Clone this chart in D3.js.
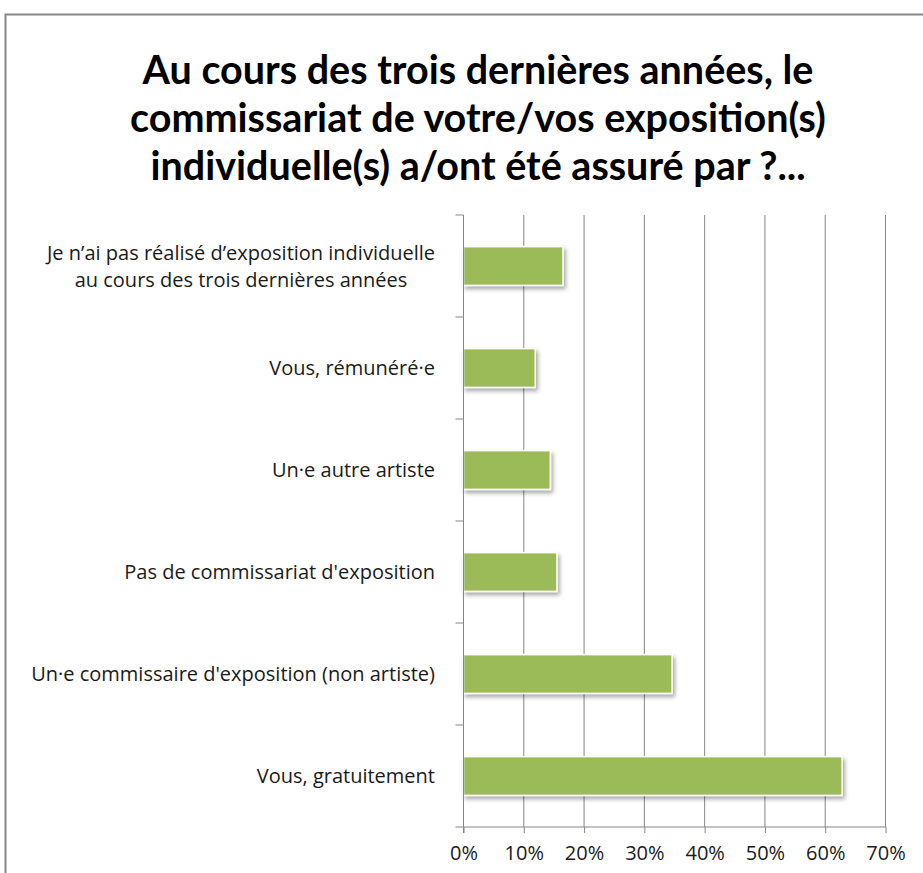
<!DOCTYPE html>
<html>
<head>
<meta charset="utf-8">
<script src="https://cdn.jsdelivr.net/npm/d3@7"></script>
<style>
  html, body { margin: 0; padding: 0; background: #fff; }
  svg { display: block; }
</style>
</head>
<body>
<svg id="chart" width="923" height="873"></svg>
<script>
// Survey answers, top to bottom, and their shares of respondents
const categories = [
  "Je n’ai pas réalisé d’exposition individuelle\nau cours des trois dernières années",
  "Vous, rémunéré·e",
  "Un·e autre artiste",
  "Pas de commissariat d'exposition",
  "Un·e commissaire d'exposition (non artiste)",
  "Vous, gratuitement"
];
const shares = [0.165, 0.119, 0.144, 0.155, 0.346, 0.628];
const xTicks = [0, 0.1, 0.2, 0.3, 0.4, 0.5, 0.6, 0.7];
const titleLines = [
  "Au cours des trois dernières années, le",
  "commissariat de votre/vos exposition(s)",
  "individuelle(s) a/ont été assuré par ?..."
];

const svg = d3.select("#chart");
const titleFont = "Lato, 'Open Sans', sans-serif";
const font = "'Open Sans', Lato, sans-serif";
const gridColor = "#868686";
const textColor = "#1a1a1a";

// chart frame
svg.append("rect")
  .attr("x", 5.5).attr("y", 14.5)
  .attr("width", 1000).attr("height", 1000)
  .attr("fill", "#fff")
  .attr("stroke", gridColor).attr("stroke-width", 2);

// bar shadow
const defs = svg.append("defs");
const f = defs.append("filter").attr("id", "shadow")
  .attr("x", "-10%").attr("y", "-20%").attr("width", "130%").attr("height", "160%");
f.append("feDropShadow")
  .attr("dx", 2).attr("dy", 3).attr("stdDeviation", 2)
  .attr("flood-color", "#000").attr("flood-opacity", 0.35);

// title
const title = svg.append("text")
  .attr("text-anchor", "middle")
  .attr("font-family", titleFont)
  .attr("font-weight", "bold")
  .attr("font-size", 39.5)
  .attr("fill", "#000");
title.selectAll("tspan").data(titleLines).join("tspan")
  .attr("x", 478)
  .attr("y", (d, i) => 84 + i * 48)
  .text(d => d);

const margin = { left: 463.5, right: 885.5, top: 215, bottom: 827 };

const x = d3.scaleLinear().domain([0, 0.7]).range([margin.left, margin.right]);
const y = d3.scaleBand().domain(categories).range([margin.top, margin.bottom])
  .paddingInner(0.62).paddingOuter(0.31);

// vertical gridlines
svg.append("g").selectAll("line").data(xTicks.slice(1)).join("line")
  .attr("x1", d => x(d)).attr("x2", d => x(d))
  .attr("y1", margin.top).attr("y2", margin.bottom)
  .attr("stroke", gridColor).attr("stroke-width", 1);

// bars
svg.append("g").selectAll("rect").data(categories).join("rect")
  .attr("x", x(0))
  .attr("y", d => y(d))
  .attr("width", (d, i) => x(shares[i]) - x(0))
  .attr("height", y.bandwidth())
  .attr("fill", "#9BBB59")
  .attr("stroke", "#fff")
  .attr("stroke-width", 1.5)
  .attr("filter", "url(#shadow)");

// x axis
const xAxis = svg.append("g")
  .attr("transform", `translate(0,${margin.bottom})`)
  .call(d3.axisBottom(x).tickValues(xTicks).tickFormat(d3.format(".0%")).tickSize(6).tickSizeOuter(0));
xAxis.select(".domain").remove();
xAxis.selectAll(".tick line").attr("stroke", gridColor);
xAxis.selectAll(".tick text")
  .attr("font-family", font).attr("font-size", 20).attr("fill", textColor).attr("dy", "1.2em");
svg.append("line")
  .attr("x1", margin.left - 8).attr("x2", margin.right)
  .attr("y1", margin.bottom).attr("y2", margin.bottom)
  .attr("stroke", gridColor);

// y axis line and category boundary ticks
svg.append("line")
  .attr("x1", margin.left).attr("x2", margin.left)
  .attr("y1", margin.top).attr("y2", margin.bottom + 6)
  .attr("stroke", gridColor);
const bounds = categories.map(d => y(d) - y.step() * y.paddingInner() / 2)
  .map((v, i) => i === 0 ? margin.top : v);
svg.append("g").selectAll("line").data(bounds).join("line")
  .attr("x1", margin.left - 8).attr("x2", margin.left)
  .attr("y1", d => d).attr("y2", d => d)
  .attr("stroke", gridColor);

// category labels: block right-aligned to the axis, multi-line blocks centred
const labelRight = 435;
const labels = svg.append("g")
  .attr("font-family", font).attr("font-size", 20).attr("fill", textColor);
categories.forEach(c => {
  const lines = c.split("\n");
  const cy = y(c) + y.bandwidth() / 2;
  const t = labels.append("text");
  lines.forEach((ln, j) => {
    t.append("tspan")
      .attr("y", cy + (j - (lines.length - 1) / 2) * 27)
      .attr("dy", "0.35em")
      .text(ln);
  });
  if (lines.length === 1) {
    t.attr("text-anchor", "end").selectAll("tspan").attr("x", labelRight);
  } else {
    const w = d3.max(t.selectAll("tspan").nodes(), n => n.getComputedTextLength());
    t.attr("text-anchor", "middle").selectAll("tspan").attr("x", labelRight - w / 2);
  }
});
</script>
</body>
</html>
